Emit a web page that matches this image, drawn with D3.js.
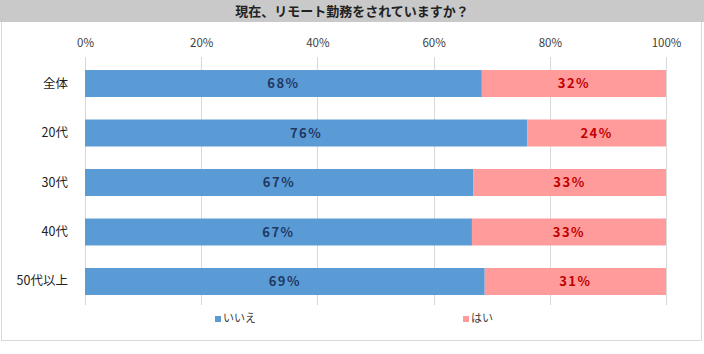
<!DOCTYPE html>
<html>
<head>
<meta charset="utf-8">
<script src="https://cdn.jsdelivr.net/npm/d3@7"></script>
<style>
body { margin: 0; background: #fff; font-family: "Noto Sans CJK JP", "Noto Sans", sans-serif; }
</style>
</head>
<body>
<div id="chart"></div>
<script>
var title = "現在、リモート勤務をされていますか？";
var categories = ["全体", "20代", "30代", "40代", "50代以上"];
var seriesNames = ["いいえ", "はい"];
var noValues = [68.3, 76.1, 66.8, 66.6, 68.8];
var yesValues = [31.7, 23.9, 33.2, 33.4, 31.2];
var noLabels = ["68%", "76%", "67%", "67%", "69%"];
var yesLabels = ["32%", "24%", "33%", "33%", "31%"];
var xTicks = [0, 20, 40, 60, 80, 100];

var colors = { no: "#5b9bd5", yes: "#ff9b9b", noText: "#1f3864", yesText: "#c00000" };

var W = 704, H = 354;
var margin = { top: 57, right: 38, bottom: 46, left: 85 };
var width = W - margin.left - margin.right,
	height = H - margin.top - margin.bottom;

var svg = d3.select("#chart").append("svg")
	.attr("width", W)
	.attr("height", H);

// outer frame
svg.append("rect")
	.attr("x", 1.5).attr("y", 0.5)
	.attr("width", W - 4).attr("height", 340)
	.attr("fill", "#fff")
	.attr("stroke", "#d9d9d9");

// title band
svg.append("rect")
	.attr("x", 0).attr("y", 0)
	.attr("width", W).attr("height", 22)
	.attr("fill", "#c9c9c9");

svg.append("text")
	.attr("x", W / 2).attr("y", 16)
	.attr("text-anchor", "middle")
	.style("font-size", "13px")
	.style("font-weight", "bold")
	.attr("fill", "#222")
	.text(title);

var g = svg.append("g")
	.attr("transform", "translate(" + margin.left + "," + margin.top + ")");

var x = d3.scaleLinear().domain([0, 100]).range([0, width]);
var y = d3.scaleBand().domain(categories).range([0, height]).paddingInner(0.455).paddingOuter(0.263);

// grid lines
g.selectAll(".grid")
	.data(xTicks)
	.enter().append("line")
	.attr("class", "grid")
	.attr("x1", function(d) { return Math.round(x(d)) + 0.5; })
	.attr("x2", function(d) { return Math.round(x(d)) + 0.5; })
	.attr("y1", 0)
	.attr("y2", height - 3)
	.attr("stroke", "#d9d9d9");

// top tick labels
var xAxis = g.append("g")
	.attr("transform", "translate(0,-8)")
	.call(d3.axisTop(x).tickValues(xTicks).tickSize(0).tickFormat(function(d) { return d + "%"; }));
xAxis.select(".domain").remove();
xAxis.selectAll("text")
	.attr("dy", "0.1em")
	.style("font-family", "'Noto Sans CJK JP', sans-serif")
	.style("font-size", "11.5px")
	.attr("fill", "#404040");

// category labels
var yAxis = g.append("g")
	.attr("transform", "translate(-14,0)")
	.call(d3.axisLeft(y).tickSize(0));
yAxis.select(".domain").remove();
yAxis.selectAll("text")
	.style("font-family", "'Noto Sans CJK JP', sans-serif")
	.style("font-size", "12.5px")
	.attr("fill", "#222");

var rows = categories.map(function(c, i) {
	return { cat: c, no: noValues[i], yes: yesValues[i], noLabel: noLabels[i], yesLabel: yesLabels[i] };
});

// いいえ bars
g.selectAll(".bar-no")
	.data(rows)
	.enter().append("rect")
	.attr("class", "bar-no")
	.attr("x", x(0))
	.attr("y", function(d) { return y(d.cat); })
	.attr("width", function(d) { return x(d.no) - x(0); })
	.attr("height", y.bandwidth())
	.attr("fill", colors.no);

// はい bars
g.selectAll(".bar-yes")
	.data(rows)
	.enter().append("rect")
	.attr("class", "bar-yes")
	.attr("x", function(d) { return x(d.no); })
	.attr("y", function(d) { return y(d.cat); })
	.attr("width", function(d) { return x(d.no + d.yes) - x(d.no); })
	.attr("height", y.bandwidth())
	.attr("fill", colors.yes);

// data labels
g.selectAll(".lbl-no")
	.data(rows)
	.enter().append("text")
	.attr("x", function(d) { return x(d.no / 2); })
	.attr("y", function(d) { return y(d.cat) + y.bandwidth() / 2; })
	.attr("dy", "0.36em")
	.attr("text-anchor", "middle")
	.style("font-size", "13px")
	.style("font-weight", "bold")
	.style("letter-spacing", "1.5px")
	.attr("fill", colors.noText)
	.text(function(d) { return d.noLabel; });

g.selectAll(".lbl-yes")
	.data(rows)
	.enter().append("text")
	.attr("x", function(d) { return x(d.no + d.yes / 2); })
	.attr("y", function(d) { return y(d.cat) + y.bandwidth() / 2; })
	.attr("dy", "0.36em")
	.attr("text-anchor", "middle")
	.style("font-size", "13px")
	.style("font-weight", "bold")
	.style("letter-spacing", "1.5px")
	.attr("fill", colors.yesText)
	.text(function(d) { return d.yesLabel; });

// legend
var legendX = [215, 463];
var legend = svg.selectAll(".legend")
	.data(seriesNames)
	.enter().append("g")
	.attr("class", "legend")
	.attr("transform", function(d, i) { return "translate(" + legendX[i] + ",322)"; });

legend.append("rect")
	.attr("x", 0).attr("y", -6)
	.attr("width", 6).attr("height", 6)
	.attr("fill", function(d, i) { return i === 0 ? colors.no : colors.yes; });

legend.append("text")
	.attr("x", 8).attr("y", 0)
	.style("font-size", "11px")
	.attr("fill", "#404040")
	.text(function(d) { return d; });
</script>
</body>
</html>
